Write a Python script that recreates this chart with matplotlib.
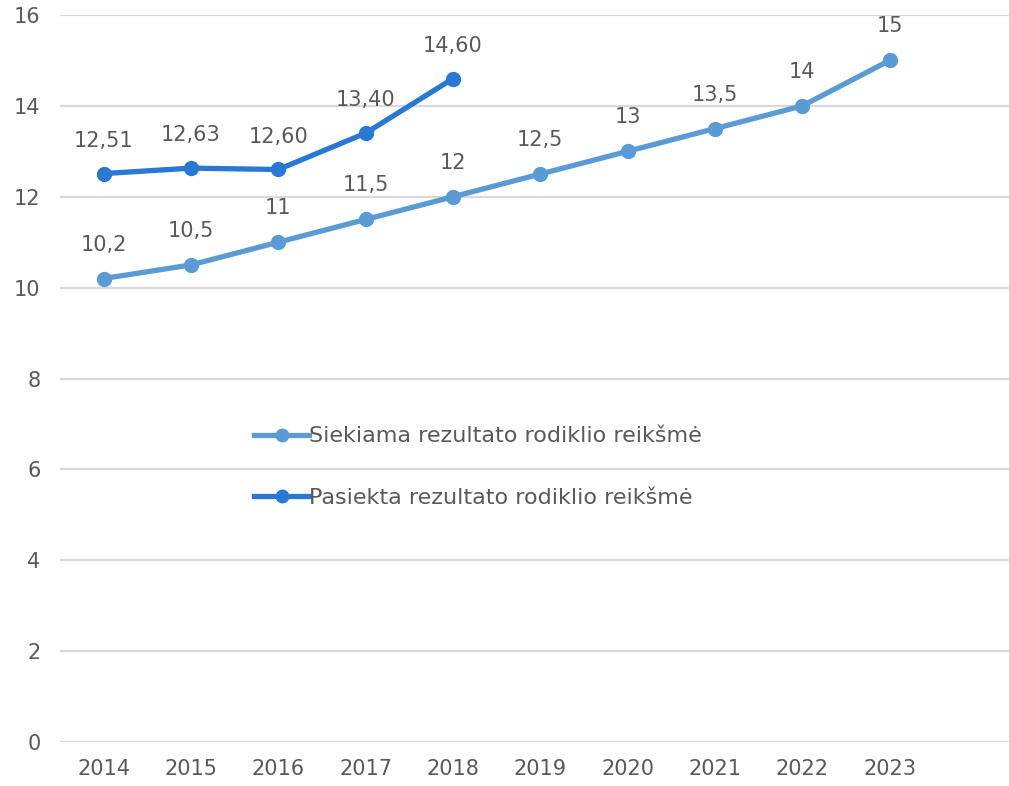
import matplotlib
matplotlib.use("Agg")
import matplotlib.pyplot as plt

years = ["2014", "2015", "2016", "2017", "2018", "2019", "2020", "2021", "2022", "2023"]
target = [10.2, 10.5, 11, 11.5, 12, 12.5, 13, 13.5, 14, 15]
target_labels = ["10,2", "10,5", "11", "11,5", "12", "12,5", "13", "13,5", "14", "15"]
achieved = [12.51, 12.63, 12.60, 13.40, 14.60]
achieved_labels = ["12,51", "12,63", "12,60", "13,40", "14,60"]
yticks = [0, 2, 4, 6, 8, 10, 12, 14, 16]

plt.rcParams['font.family'] = ['DejaVu Sans']
txt = "#595959"
c1 = "#5B9BD5"
c2 = "#2878D4"

W, H = 1009, 786
fig = plt.figure(figsize=(W/100, H/100), dpi=100)
ax = fig.add_axes([60/W, 1-742/H, (W-60)/W, (742-15)/H])

x1 = list(range(len(years)))
x2 = list(range(len(achieved)))
ax.plot(x1, target, color=c1, lw=3.8, marker='o', ms=10, zorder=3,
        label="Siekiama rezultato rodiklio reikšmė")
ax.plot(x2, achieved, color=c2, lw=3.8, marker='o', ms=10, zorder=4,
        label="Pasiekta rezultato rodiklio reikšmė")

for xi, v, s in zip(x1, target, target_labels):
    ax.annotate(s, (xi, v), xytext=(0, 24.5), textcoords='offset points',
                ha='center', va='center', fontsize=15, color=txt)
for xi, v, s in zip(x2, achieved, achieved_labels):
    ax.annotate(s, (xi, v), xytext=(0, 23.5), textcoords='offset points',
                ha='center', va='center', fontsize=15, color=txt)

ax.set_ylim(0, 16)
ax.set_xlim(-0.5, -0.5 + (W-60)/87.33)
ax.set_yticks(yticks)
ax.set_yticklabels([str(t) for t in yticks])
ax.set_xticks(x1)
ax.set_xticklabels(years)
ax.tick_params(axis='both', length=0, labelsize=15, labelcolor=txt)
ax.tick_params(axis='y', pad=14)
ax.tick_params(axis='x', pad=12)
ax.grid(axis='y', color='#D9D9D9', lw=1.6)
ax.set_axisbelow(True)
for sp in ax.spines.values():
    sp.set_visible(False)

leg = ax.legend(loc='center left', bbox_to_anchor=(185/(W-60), 1-(467-15)/727),
                frameon=False, fontsize=16, labelcolor=txt, handlelength=2.5,
                handletextpad=0.0, labelspacing=1.85, borderaxespad=0,
                markerscale=0.9)

fig.savefig("out.png", dpi=100)
